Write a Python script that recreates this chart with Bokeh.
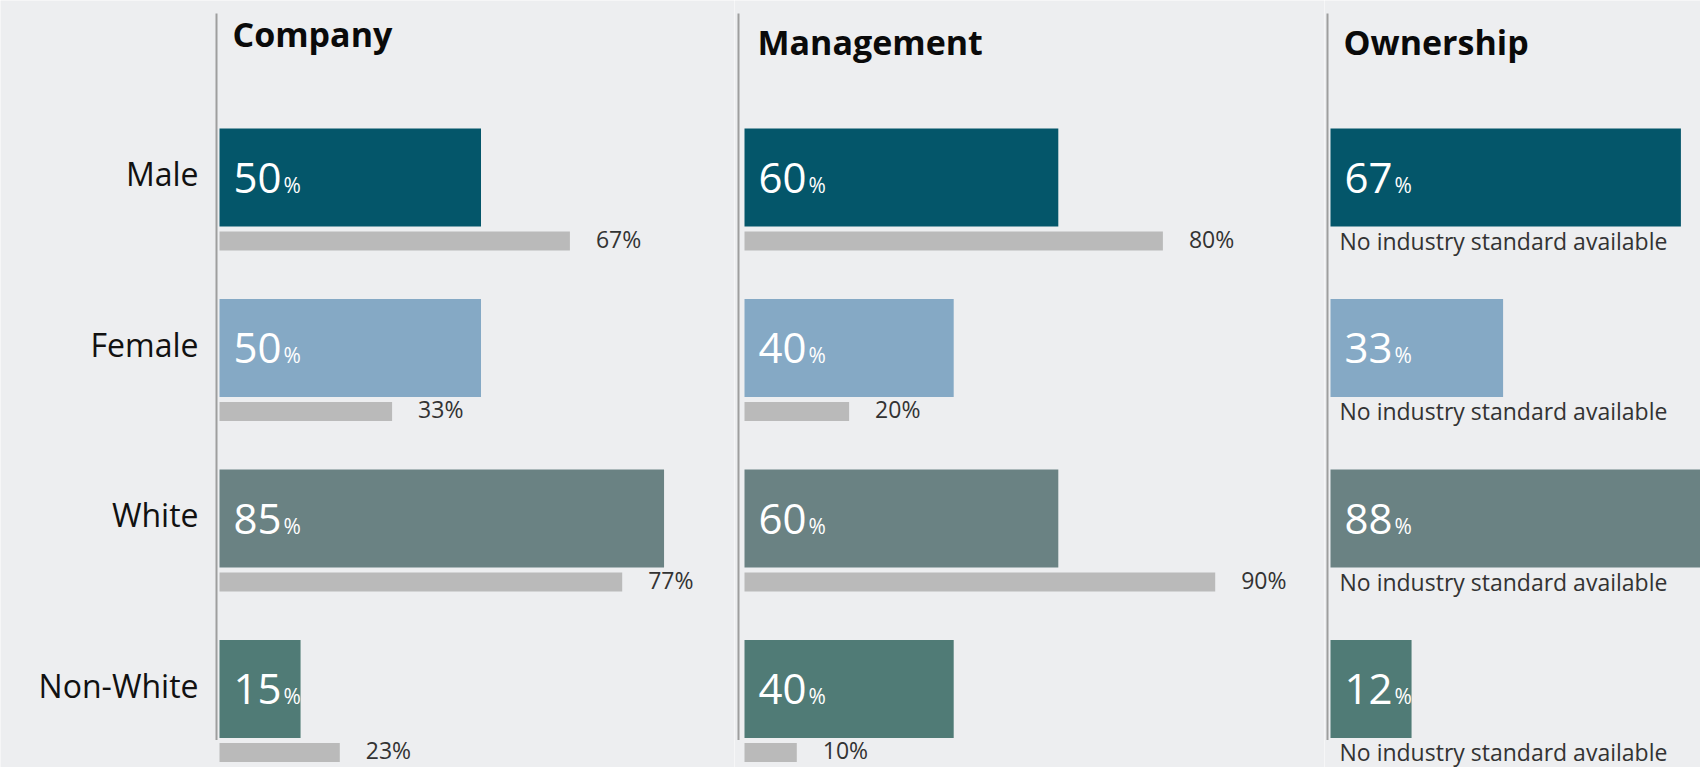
from bokeh.plotting import figure
from bokeh.layouts import row
from bokeh.models import Range1d, ColumnDataSource
from bokeh.core.properties import value
from bokeh.embed import file_html
from bokeh.resources import INLINE

# ---------------- data ----------------
categories = ["Male", "Female", "White", "Non-White"]
panel_titles = ["Company", "Management", "Ownership"]
company = [50, 50, 85, 15]
company_std = [67, 33, 77, 23]
management = [60, 40, 60, 40]
management_std = [80, 20, 90, 10]
ownership = [67, 33, 88, 12]
ownership_std = [None, None, None, None]
no_std_text = "No industry standard available"
bar_colors = ["#04566A", "#85A9C5", "#6A8283", "#507B76"]

# ---------------- layout constants ----------------
W, H = 1700, 767
PX_PER_PCT = 5.23
ROW_PX = 170.5
FIRST_ROW_PX = 177.0
BAR_H = 0.575
STD_OFF = 0.372
STD_H = 0.111
LABEL_MIN_PCT = 15.5   # bars are drawn at least long enough to hold their label
BG = "#EDEEF0"
STD_COLOR = "#BABABA"
LINE_COLOR = "#9E9E9E"
FONT = "Open Sans"

y_end = -FIRST_ROW_PX / ROW_PX
y_start = y_end + H / ROW_PX

# fig_left, fig_right, line_px, bar_px, title_offset
geoms = [
    (0, 734, 216, 219, 33),
    (734, 1324, 738, 744, 41),
    (1324, 1700, 1327, 1330, 41),
]
values_list = [company, management, ownership]
std_list = [company_std, management_std, ownership_std]

figs = []
for k, (title, vals, stds, g) in enumerate(zip(panel_titles, values_list, std_list, geoms)):
    fig_left, fig_right, line_px, bar_px, title_off = g
    x_start = -(bar_px - fig_left) / PX_PER_PCT
    x_end = x_start + (fig_right - fig_left) / PX_PER_PCT
    p = figure(width=fig_right - fig_left, height=H,
               x_range=Range1d(x_start, x_end),
               y_range=Range1d(y_start, y_end),
               output_backend="svg", toolbar_location=None,
               x_axis_location=None, y_axis_location=None,
               min_border_left=0, min_border_right=0,
               min_border_top=0, min_border_bottom=0,
               background_fill_color=BG, border_fill_color=BG,
               outline_line_color=None)
    p.xgrid.visible = False
    p.ygrid.visible = False

    rows = list(range(len(categories)))
    line_x = -(bar_px - line_px) / PX_PER_PCT
    src = ColumnDataSource(dict(
        y=rows, v=vals, shown=[max(v, LABEL_MIN_PCT) for v in vals],
        color=bar_colors,
        num=[str(v) for v in vals], pct=["%"] * len(vals),
        zero=[0] * len(vals),
    ))
    p.hbar(y="y", left=0, right="shown", height=BAR_H, color="color",
           source=src, line_color=None)
    p.text(x="zero", y="y", text="num", source=src, text_color="white",
           text_font=value(FONT), text_font_size="42px",
           text_baseline="alphabetic", text_align="left",
           x_offset=14, y_offset=0)
    p.text(x="zero", y="y", text="pct", source=src, text_color="white",
           text_font=value(FONT), text_font_size="21px",
           text_baseline="alphabetic", text_align="left",
           x_offset=64, y_offset=7)

    std_rows = [r for r, s in zip(rows, stds) if s is not None]
    std_vals = [s for s in stds if s is not None]
    if std_vals:
        ssrc = ColumnDataSource(dict(
            y=[r + STD_OFF for r in std_rows], v=std_vals,
            lab=[f"{s}%" for s in std_vals],
        ))
        p.hbar(y="y", left=0, right="v", height=STD_H, color=STD_COLOR,
               source=ssrc, line_color=None)
        p.text(x="v", y="y", text="lab", source=ssrc, text_color="#333333",
               text_font=value(FONT), text_font_size="23px",
               text_baseline="alphabetic", text_align="left",
               x_offset=26, y_offset=-2)
    nrows = [r for r, s in zip(rows, stds) if s is None]
    if nrows:
        nsrc = ColumnDataSource(dict(
            y=[r + STD_OFF for r in nrows], x=[0] * len(nrows),
            t=[no_std_text] * len(nrows),
        ))
        p.text(x="x", y="y", text="t", source=nsrc, text_color="#333333",
               text_font=value(FONT), text_font_size="23px",
               text_baseline="alphabetic", text_align="left",
               x_offset=9, y_offset=0)

    # divider line
    p.segment(x0=[line_x], x1=[line_x], y0=[y_end + 13 / ROW_PX],
              y1=[rows[-1] + BAR_H / 2 + 2 / ROW_PX],
              line_color=LINE_COLOR, line_width=2)

    # panel title
    p.text(x=[0], y=[y_end], text=[title], text_color="#0A0A0A",
           text_font=value(FONT), text_font_size="34px", text_font_style="bold",
           text_baseline="alphabetic", text_align="left",
           x_offset=13, y_offset=title_off)

    # row labels (left of the first divider)
    if k == 0:
        lsrc = ColumnDataSource(dict(
            x=[line_x] * len(rows), y=rows, t=categories,
        ))
        p.text(x="x", y="y", text="t", source=lsrc, text_color="#111111",
               text_font=value(FONT), text_font_size="32px",
               text_baseline="middle", text_align="right",
               x_offset=-18, y_offset=-4)
    figs.append(p)

layout = row(*figs, spacing=0)
with open("out.html", "w") as f:
    f.write(file_html(layout, INLINE))
